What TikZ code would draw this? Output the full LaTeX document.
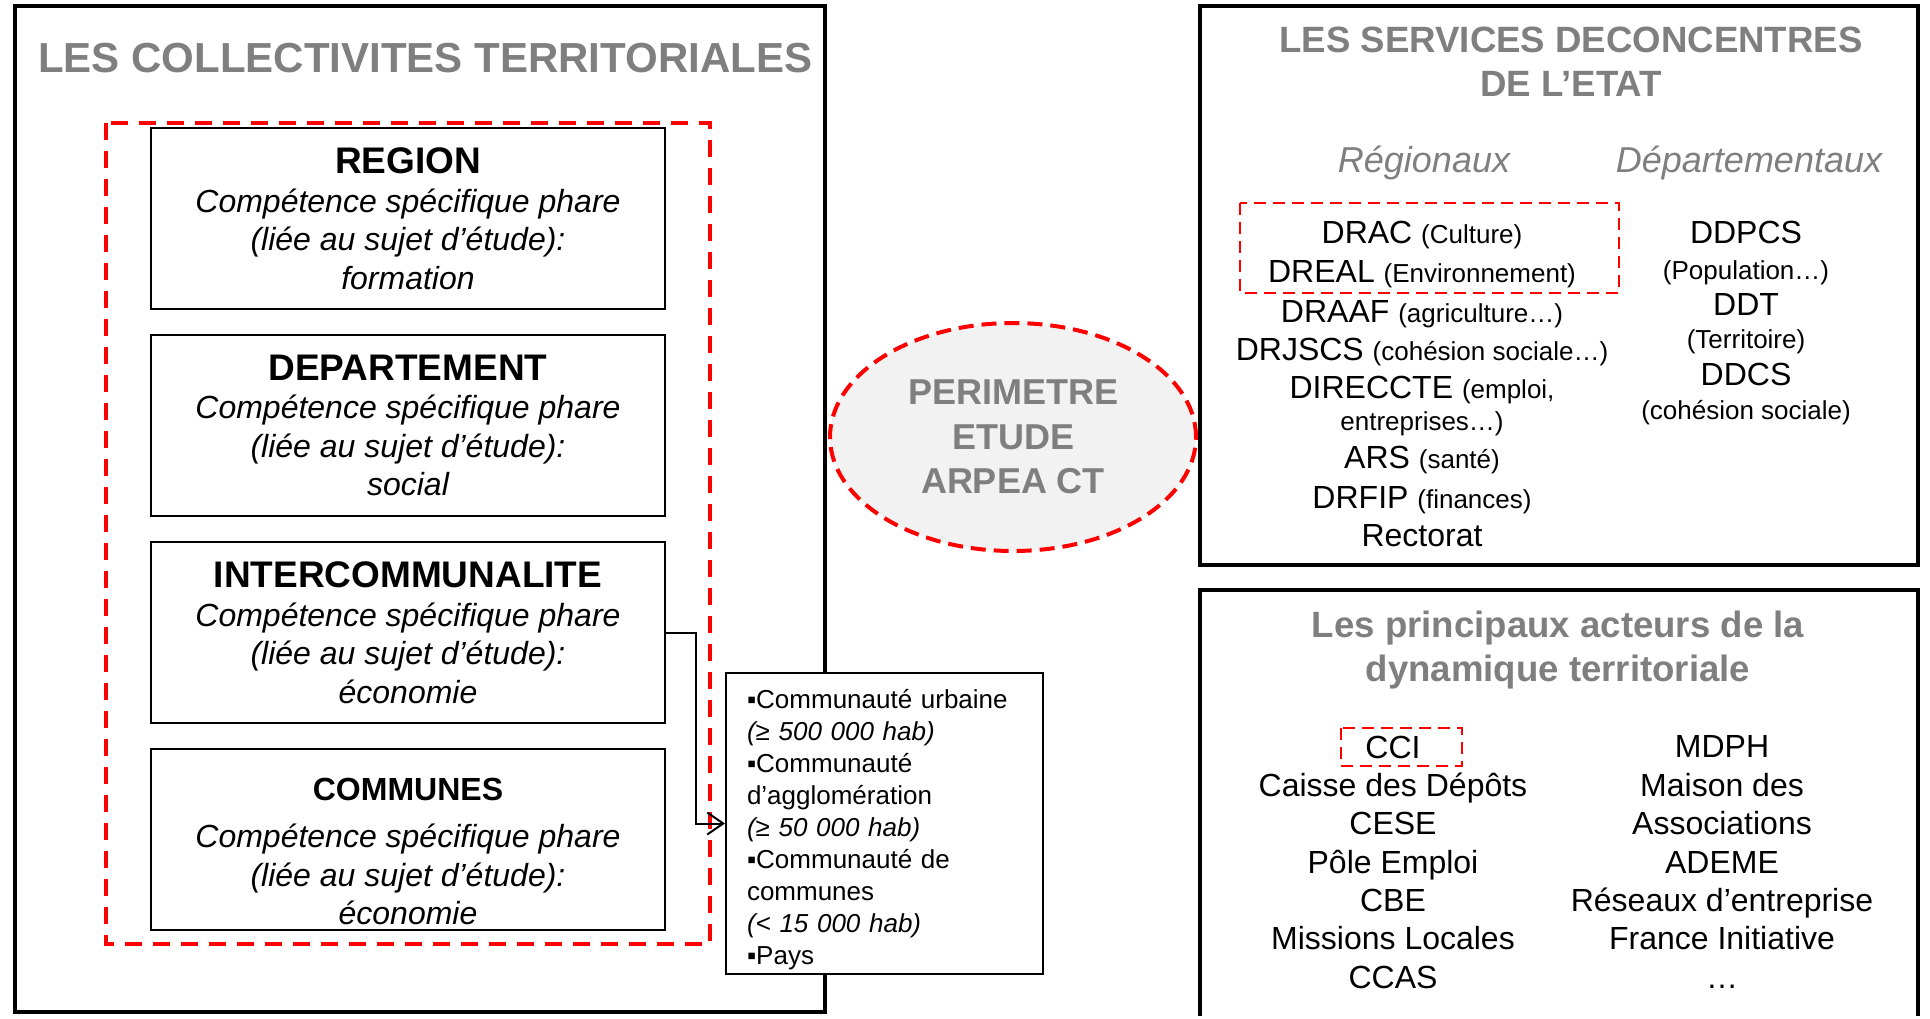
\documentclass[tikz,border=0pt]{standalone}
\usepackage{fontspec}
\setmainfont{Liberation Sans}
\usetikzlibrary{positioning,shapes.geometric,arrows.meta}
\definecolor{gris}{HTML}{7F7F7F}
\definecolor{rouge}{HTML}{FF0000}
\definecolor{fondgris}{HTML}{F2F2F2}
\newcommand{\precis}[1]{{\fontsize{13}{15}\selectfont #1}}
\newcommand{\entete}[1]{{\fontsize{18.5}{22}\selectfont\bfseries\upshape #1}}
\begin{document}
\begin{tikzpicture}[x=0.5pt,y=-0.5pt,
    grand/.style={line width=2.25pt},
    tirets/.style={draw=rouge,line width=2pt,dash pattern=on 8.5pt off 5.5pt},
    petitstirets/.style={draw=rouge,line width=1.3pt,dash pattern=on 6pt off 3.5pt},
    collbox/.style={draw,line width=1pt,minimum width=257pt,minimum height=90.5pt,inner sep=0pt,outer sep=0pt,align=center,font=\fontsize{16}{19.25}\selectfont\itshape},
    titre/.style={anchor=base,text=gris,font=\fontsize{18.3}{22}\selectfont\bfseries},
    rubrique/.style={anchor=base,text=gris,font=\fontsize{18}{22}\selectfont\itshape},
    ligne/.style={anchor=base,font=\fontsize{16}{19.25}\selectfont},
    liste/.style={align=center,inner sep=0pt,font=\fontsize{16}{19.17}\selectfont}]
    \fill[white] (0,0) rectangle (1930,1016);
    \draw[grand] (15,6) rectangle (825,1012);
    \node[titre,font=\fontsize{21}{24}\selectfont\bfseries] (collectivites) at (425,73) {LES COLLECTIVITES TERRITORIALES};
    \draw[tirets] (106,123) rectangle (710,944);
    \node[collbox] (region) at (408,218.5) {\entete{REGION}\\Compétence spécifique phare\\(liée au sujet d’étude):\\formation};
    \node[collbox,below=13pt of region] (departement) {\entete{DEPARTEMENT}\\Compétence spécifique phare\\(liée au sujet d’étude):\\social};
    \node[collbox,below=13pt of departement] (interco) {\entete{INTERCOMMUNALITE}\\Compétence spécifique phare\\(liée au sujet d’étude):\\économie};
    \node[collbox,below=13pt of interco] (communes) {{\rule{0pt}{23.5pt}\fontsize{16}{19.25}\selectfont\bfseries\upshape COMMUNES}\\[4.25pt]Compétence spécifique phare\\(liée au sujet d’étude):\\économie};
    \node[draw,fill=white,line width=1pt,text width=137.5pt,minimum height=150.5pt,inner xsep=10.5pt,inner ysep=0pt,align=left,font=\fontsize{13}{16}\selectfont] (cu) at (884.5,823.5) {\rule{0pt}{16pt}▪Communauté urbaine\\\textit{(≥ 500 000 hab)}\\▪Communauté\\d’agglomération\\\textit{(≥ 50 000 hab)}\\▪Communauté de\\communes\\\textit{(< 15 000 hab)}\\▪Pays};
    \draw[line width=1pt,-{Straight Barb[length=8pt,width=11pt]}] (interco.east) -- ++(31,0) |- (cu.west);
    \node[ellipse,draw=rouge,fill=fondgris,line width=2pt,dash pattern=on 7.5pt off 4pt,minimum width=183pt,minimum height=114pt,inner sep=0pt,align=center,text=gris,font=\fontsize{18}{22.25}\selectfont\bfseries] (perimetre) at (1013,437) {PERIMETRE\\ETUDE\\ARPEA CT};
    \draw[grand] (1200,6) rectangle (1918,565);
    \node[titre] (services) at (1571,53) {LES SERVICES DECONCENTRES};
    \node[titre] (etat) at (1571,97) {DE L’ETAT};
    \node[rubrique] (regionaux) at (1424,173) {Régionaux};
    \node[rubrique] (departementaux) at (1749,173) {Départementaux};
    \node[ligne] (drac) at (1422,244) {DRAC \precis{(Culture)}};
    \node[ligne] (dreal) at (1422,283) {DREAL \precis{(Environnement)}};
    \node[ligne] (draaf) at (1422,322) {DRAAF \precis{(agriculture…)}};
    \node[ligne] (drjscs) at (1422,360) {DRJSCS \precis{(cohésion sociale…)}};
    \node[ligne] (direccte) at (1422,398) {DIRECCTE \precis{(emploi,}};
    \node[ligne] (entreprises) at (1422,430) {\precis{entreprises…)}};
    \node[ligne] (ars) at (1422,468) {ARS \precis{(santé)}};
    \node[ligne] (drfip) at (1422,508) {DRFIP \precis{(finances)}};
    \node[ligne] (rectorat) at (1422,546) {Rectorat};
    \draw[petitstirets] (1240,203) rectangle (1619,293);
    \node[ligne] (ddpcs) at (1746,244) {DDPCS};
    \node[ligne] (population) at (1746,280) {\precis{(Population…)}};
    \node[ligne] (ddt) at (1746,315) {DDT};
    \node[ligne] (territoire) at (1746,349) {\precis{(Territoire)}};
    \node[ligne] (ddcs) at (1746,385) {DDCS};
    \node[ligne] (cohesion) at (1746,419) {\precis{(cohésion sociale)}};
    \draw[grand] (1200,1016) -- (1200,590) -- (1918,590) -- (1918,1016);
    \node[titre] (acteurs) at (1558,637) {Les principaux acteurs de la};
    \node[titre] (dynamique) at (1558,681) {dynamique territoriale};
    \node[liste] (acteursg) at (1393,862) {CCI\\Caisse des Dépôts\\CESE\\Pôle Emploi\\CBE\\Missions Locales\\CCAS};
    \node[liste] (acteursd) at (1722,862) {MDPH\\Maison des\\Associations\\ADEME\\Réseaux d’entreprise\\France Initiative\\…};
    \draw[petitstirets] (1341,728) rectangle (1462,766);
\end{tikzpicture}
\end{document}
